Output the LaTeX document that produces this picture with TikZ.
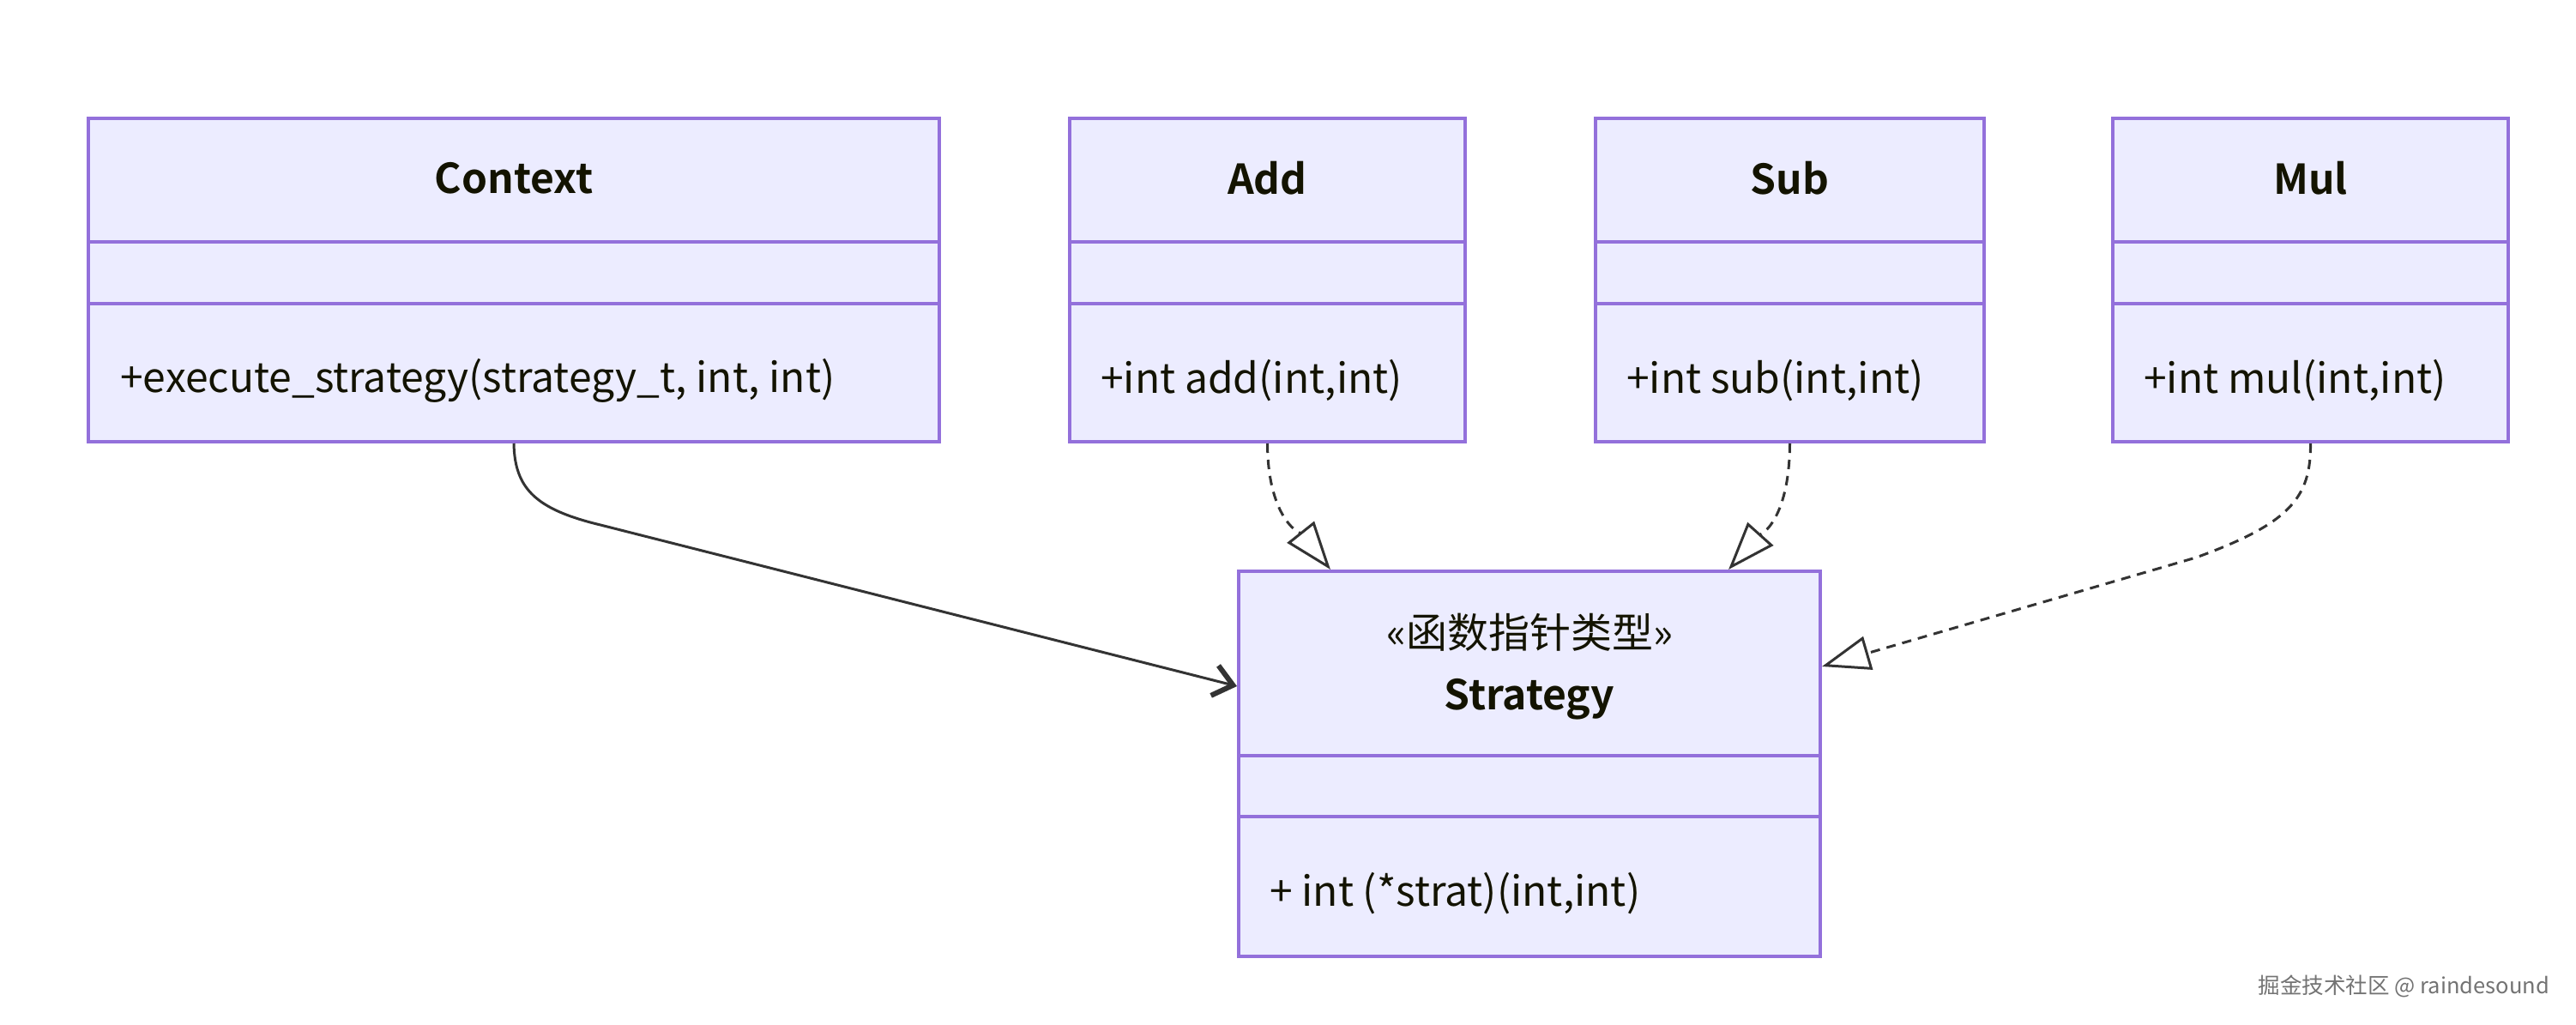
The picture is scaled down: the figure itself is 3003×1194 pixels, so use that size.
\documentclass[tikz,border=0pt]{standalone}
\usepackage{fontspec}
\setmainfont{Noto Sans CJK SC}[BoldFont={Noto Sans CJK SC Bold}]
\usetikzlibrary{arrows.meta}
\definecolor{boxfill}{HTML}{ECECFF}
\definecolor{boxline}{HTML}{9370DB}
\definecolor{txt}{HTML}{131300}
\definecolor{edge}{HTML}{333333}
\tikzset{
  classbox/.style={draw=boxline, fill=boxfill, line width=4pt, inner sep=0pt},
  divider/.style={draw=boxline, line width=4pt},
  titletxt/.style={font=\fontsize{48}{57}\selectfont\bfseries, text=txt, inner sep=0pt},
  stereotxt/.style={font=\fontsize{48}{57}\selectfont, text=txt, inner sep=0pt},
  membertxt/.style={font=\fontsize{48}{57}\selectfont, text=txt, inner sep=0pt, anchor=west},
  realize/.style={draw=edge, line width=3pt, dash pattern=on 11pt off 8pt, -{Triangle[open, length=56pt, width=40pt, line width=3pt]}},
  depend/.style={draw=edge, line width=3pt, -{Straight Barb[length=22pt, width=36pt, line width=6pt]}},
}
\begin{document}
\begin{tikzpicture}[x=1pt, y=-1pt]
\useasboundingbox (0,0) rectangle (3003,1194);
\fill[white] (0,0) rectangle (3003,1194);

% Context
\node[classbox, minimum width=992pt, minimum height=377pt] (ctx) at (599,326.5) {};
\draw[divider] (ctx.west |- 0,282) -- (ctx.east |- 0,282);
\draw[divider] (ctx.west |- 0,354) -- (ctx.east |- 0,354);
\node[titletxt] (ctxt) at (599,208) {Context};
\node[membertxt] (ctxm) at (140,444) {+execute\_strategy(strategy\_t, int, int)};

% Add
\node[classbox, minimum width=461pt, minimum height=377pt] (add) at (1477.5,326.5) {};
\draw[divider] (add.west |- 0,282) -- (add.east |- 0,282);
\draw[divider] (add.west |- 0,354) -- (add.east |- 0,354);
\node[titletxt] (addt) at (1477.5,208) {Add};
\node[membertxt] (addm) at (1283,444) {+int add(int,int)};

% Sub
\node[classbox, minimum width=453pt, minimum height=377pt] (sub) at (2086.5,326.5) {};
\draw[divider] (sub.west |- 0,282) -- (sub.east |- 0,282);
\draw[divider] (sub.west |- 0,354) -- (sub.east |- 0,354);
\node[titletxt] (subt) at (2086.5,208) {Sub};
\node[membertxt] (subm) at (1896,444) {+int sub(int,int)};

% Mul
\node[classbox, minimum width=461pt, minimum height=377pt] (mul) at (2693.5,326.5) {};
\draw[divider] (mul.west |- 0,282) -- (mul.east |- 0,282);
\draw[divider] (mul.west |- 0,354) -- (mul.east |- 0,354);
\node[titletxt] (mult) at (2693.5,208) {Mul};
\node[membertxt] (mulm) at (2499,444) {+int mul(int,int)};

% Strategy
\node[classbox, minimum width=678pt, minimum height=449pt] (strat) at (1783,890.5) {};
\draw[divider] (strat.west |- 0,881) -- (strat.east |- 0,881);
\draw[divider] (strat.west |- 0,952) -- (strat.east |- 0,952);
\node[stereotxt] (strats) at (1783,737) {«函数指针类型»};
\node[titletxt] (stratt) at (1783,815) {Strategy};
\node[membertxt] (stratm) at (1480,1042) {+ int (*strat)(int,int)};

% connectors
\coordinate (c1) at (700,612);
\draw[depend] (ctx.south) .. controls (600,570) and (625,594) .. (c1) -- (strat.west |- 0,800);
\draw[realize] (add.south) .. controls (1478,610) and (1520,625) .. (strat.north -| 1551,0);
\draw[realize] (sub.south) .. controls (2086,610) and (2050,625) .. (strat.north -| 2015,0);
\coordinate (c4) at (2560,650);
\draw[realize] (mul.south) .. controls (2694,580) and (2670,610) .. (c4) -- (strat.east |- 0,777);

% watermark
\node[font=\fontsize{25.5}{31}\selectfont, text=black!55, anchor=east, inner sep=0pt] (wm) at (2972,1150) {掘金技术社区 @ raindesound};
\end{tikzpicture}
\end{document}
